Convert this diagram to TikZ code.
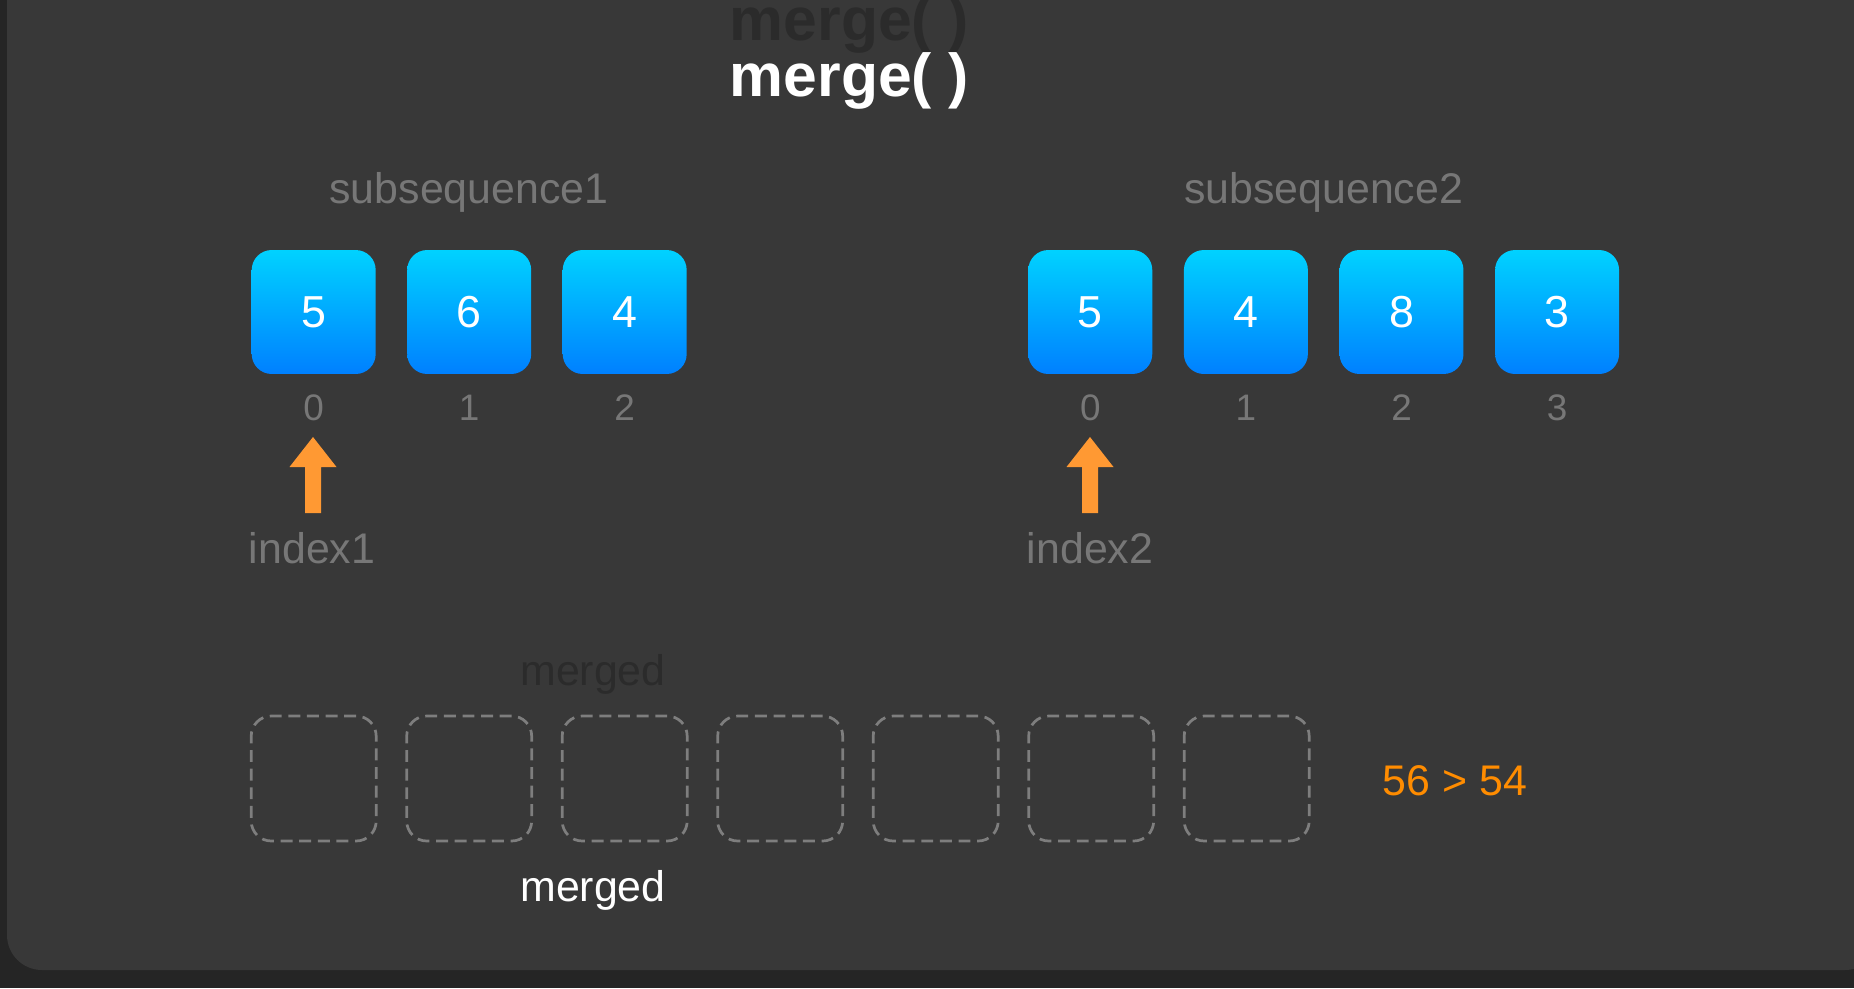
\documentclass[tikz,border=0pt]{standalone}
\usepackage{fontspec}
\setmainfont{Liberation Sans}
\definecolor{outerbg}{HTML}{252525}
\definecolor{panelbg}{HTML}{383838}
\definecolor{labelgray}{HTML}{777777}
\definecolor{faintgray}{HTML}{2B2B2B}
\definecolor{dashgray}{HTML}{7E7E7E}
\definecolor{boxtop}{HTML}{00D2FF}
\definecolor{boxbot}{HTML}{0080FF}
\definecolor{ptrorange}{HTML}{FF9933}
\definecolor{cmporange}{HTML}{FF8C00}
\begin{document}
\begin{tikzpicture}[x=0.02cm,y=-0.02cm,
  bluebox/.style={rectangle, rounded corners=0.4cm, minimum width=2.48cm, minimum height=2.48cm,
    inner sep=0pt, top color=boxtop, bottom color=boxbot, draw=none, text=white,
    font=\fontsize{25.5}{28}\selectfont},
  slotbox/.style={rectangle, rounded corners=0.4cm, minimum width=2.5cm, minimum height=2.5cm,
    inner sep=0pt, draw=dashgray, line width=1.55pt, dash pattern=on 6.8pt off 3.8pt},
  idxlabel/.style={anchor=base, text=labelgray, font=\fontsize{21}{24}\selectfont},
  graylabel/.style={anchor=base, text=labelgray, font=\fontsize{24.4}{28}\selectfont},
  ptrarrow/.style={fill=ptrorange, draw=none}
]
\useasboundingbox (0,0) rectangle (1854,988);
\fill[outerbg] (0,0) rectangle (1854,988);
\fill[panelbg, rounded corners=0.7cm] (7,-60) rectangle (1880,970);

% title
\node[anchor=base, text=faintgray, font=\bfseries\fontsize{34.5}{38}\selectfont] (titlefaint) at (849.5,40) {merge( )};
\node[anchor=base, text=white, font=\bfseries\fontsize{34.5}{38}\selectfont] (title) at (849.5,96) {merge( )};

% subsequence 1
\node[graylabel] (sub1) at (469,203) {subsequence1};
\foreach \v [count=\i from 0] in {5,6,4} {
  \node[bluebox] (a\i) at ({313.7+155.5*\i},312) {\v};
  \node[idxlabel] (ai\i) at ({313.7+155.5*\i},420) {\i};
}
% subsequence 2
\node[graylabel] (sub2) at (1323.6,203) {subsequence2};
\foreach \v [count=\i from 0] in {5,4,8,3} {
  \node[bluebox] (b\i) at ({1090.3+155.6*\i},312) {\v};
  \node[idxlabel] (bi\i) at ({1090.3+155.6*\i},420) {\i};
}

% pointer arrows
\coordinate (p1) at (313,437);
\coordinate (p2) at (1090,437);
\foreach \p in {p1,p2} {
  \fill[ptrarrow] (\p) -- ++(23.5,30) -- ++(-15.5,0) -- ++(0,46) -- ++(-16,0) -- ++(0,-46) -- ++(-15.5,0) -- cycle;
}
\node[graylabel] (idx1) at (312,563) {index1};
\node[graylabel] (idx2) at (1090,563) {index2};

% merged slots
\node[graylabel, text=faintgray] (mergedfaint) at (593,685) {merged};
\foreach \i in {0,...,6} {
  \node[slotbox] (m\i) at ({313.7+155.5*\i},778.5) {};
}
\node[graylabel, text=white] (merged) at (593,901.7) {merged};
\node[graylabel, text=cmporange] (cmp) at (1455,795) {56 > 54};
\end{tikzpicture}
\end{document}
